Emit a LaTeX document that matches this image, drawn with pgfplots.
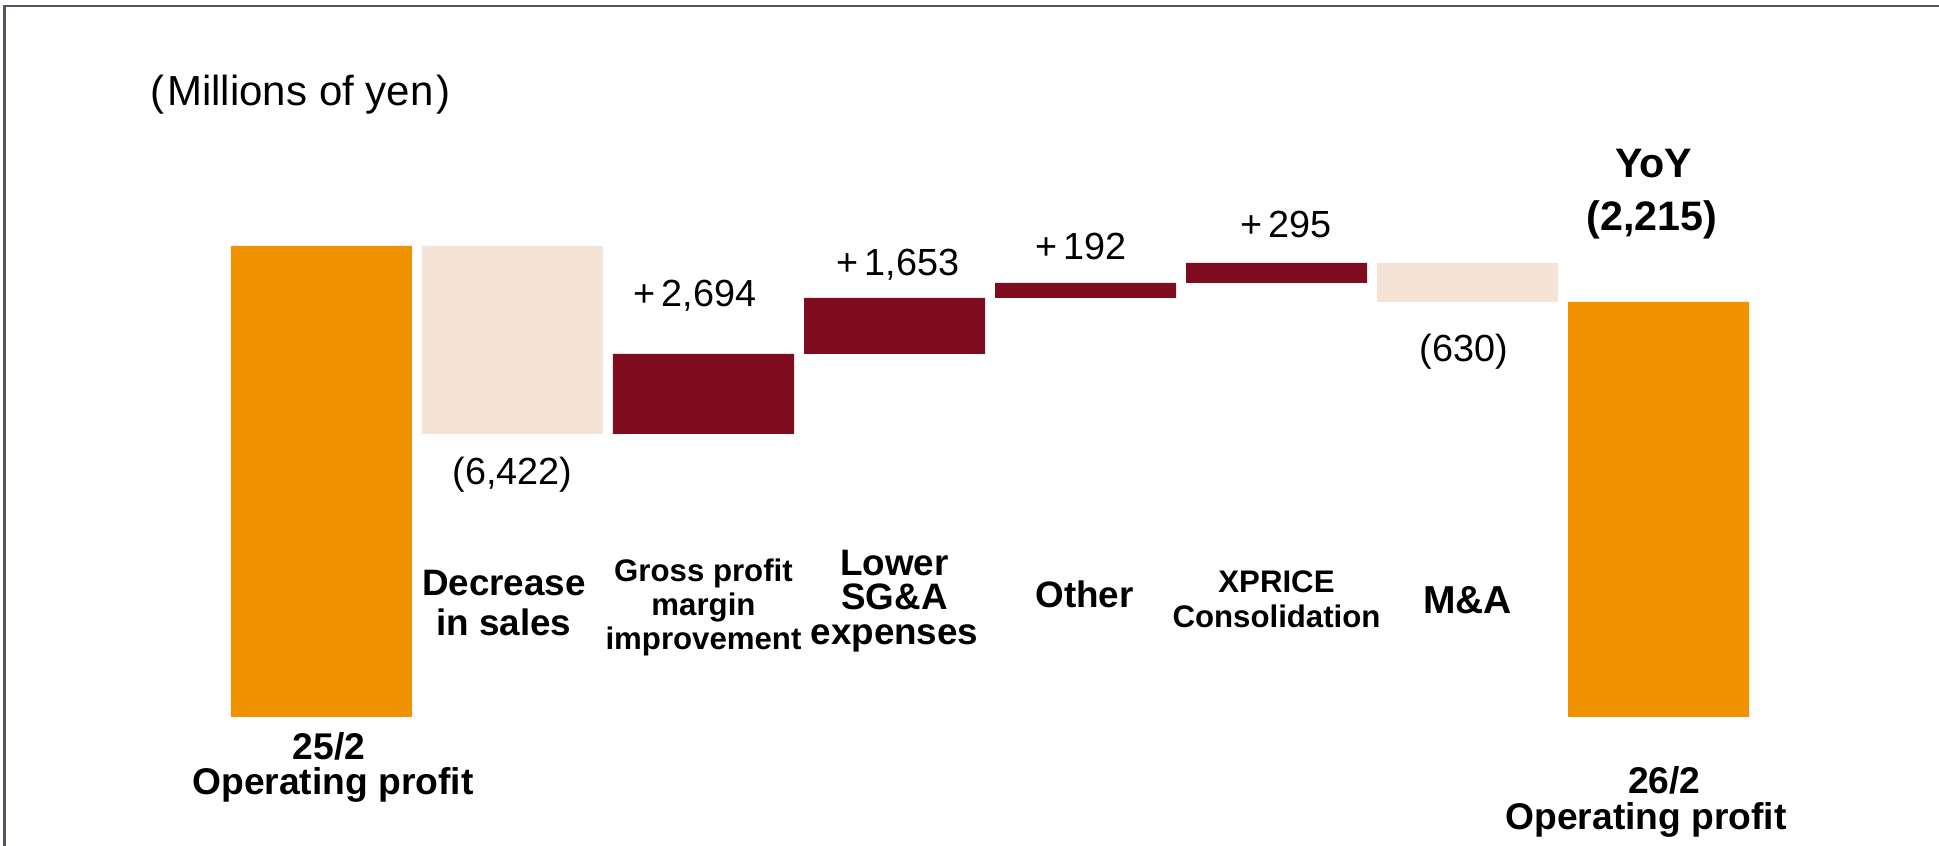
\documentclass[border=0pt]{standalone}
\usepackage{pgfplots}
\pgfplotsset{compat=1.18}
\usepackage{fontspec}
\setmainfont{Liberation Sans}
\definecolor{bOrange}{RGB}{241,146,0}
\definecolor{bBeige}{RGB}{245,228,213}
\definecolor{bRed}{RGB}{128,12,32}
\definecolor{frameGrey}{RGB}{80,86,94}
\newcommand{\vfont}{\fontsize{18.9}{22}\selectfont}
\begin{document}
\begin{tikzpicture}
\path[use as bounding box] (0,0) rectangle (969.5pt,423pt);
\begin{axis}[
  scale only axis, width=969.5pt, height=423pt,
  xmin=-1.6832, xmax=8.4686, ymin=-129, ymax=717,
  hide axis, clip=false,
  ybar stacked, bar width=90.5pt,
]
% invisible base of each floating bar (drawn levels)
\addplot[draw=none, fill=none] coordinates {(0,0) (1,283) (2,283) (3,363) (4,419) (5,434) (6,415) (7,0)};
% operating profit bars
\addplot[draw=none, fill=bOrange] coordinates {(0,471) (1,0) (2,0) (3,0) (4,0) (5,0) (6,0) (7,415)};
% decreases
\addplot[draw=none, fill=bBeige] coordinates {(0,0) (1,188) (2,0) (3,0) (4,0) (5,0) (6,39) (7,0)};
% increases
\addplot[draw=none, fill=bRed] coordinates {(0,0) (1,0) (2,80) (3,56) (4,15) (5,20) (6,0) (7,0)};

% frame (top and left)
\draw[frameGrey, line width=1.3pt] (-1.660,-129) -- (-1.660,711) -- (8.4686,711);

% unit
\node[anchor=base west, inner sep=0pt, font=\fontsize{21}{24}\selectfont] at (-0.898,611.5) {(\kern1.5pt Millions of yen\kern1.5pt)};

% values
\node[anchor=base, inner sep=0pt, text=white, font=\fontsize{18.3}{22}\selectfont\bfseries] at (0.018,285) {33,230};
\node[anchor=base, inner sep=0pt, text=white, font=\fontsize{18.3}{22}\selectfont\bfseries] at (6.982,283) {31,014};
\node[anchor=base, inner sep=0pt, font=\vfont] at (1.0,232) {(6,422)};
\node[anchor=base, inner sep=0pt, font=\vfont] at (1.955,410) {+\kern3pt2,694};
\node[anchor=base, inner sep=0pt, font=\vfont] at (3.018,441) {+\kern3pt1,653};
\node[anchor=base, inner sep=0pt, font=\vfont] at (3.976,457) {+\kern3pt192};
\node[anchor=base, inner sep=0pt, font=\vfont] at (5.05,479) {+\kern3pt295};
\node[anchor=base, inner sep=0pt, font=\vfont] at (5.98,355) {(630)};
\node[anchor=base, inner sep=0pt, font=\fontsize{20.6}{24}\selectfont\bfseries] at (6.976,539) {YoY};
\node[anchor=base, inner sep=0pt, font=\fontsize{20.6}{24}\selectfont\bfseries] at (6.966,486) {(2,215)};

% category labels
\node[anchor=center, align=center, inner sep=0pt, font=\fontsize{18.4}{20.2}\selectfont\bfseries] at (0.955,114) {Decrease\\in sales};
\node[anchor=center, align=center, inner sep=0pt, font=\fontsize{15.6}{16.8}\selectfont\bfseries] at (2.0,109.5) {Gross profit\\margin\\improvement};
\node[anchor=center, align=center, inner sep=0pt, font=\fontsize{18.4}{17.3}\selectfont\bfseries] at (3.0,116) {Lower\\SG\&A\\expenses};
\node[anchor=center, align=center, inner sep=0pt, font=\fontsize{18.4}{22}\selectfont\bfseries] at (3.995,123) {Other};
\node[anchor=center, align=center, inner sep=0pt, font=\fontsize{15.6}{17.6}\selectfont\bfseries] at (5.0,118) {XPRICE\\Consolidation};
\node[anchor=center, align=center, inner sep=0pt, font=\fontsize{19.5}{22}\selectfont\bfseries] at (6.0,117) {M\&A};

% bottom labels
\node[anchor=base, inner sep=0pt, font=\fontsize{18.6}{22}\selectfont\bfseries] at (0.04,-43) {25/2};
\node[anchor=base, inner sep=0pt, font=\fontsize{18.6}{22}\selectfont\bfseries] at (0.06,-78) {Operating profit};
\node[anchor=base, inner sep=0pt, font=\fontsize{18.6}{22}\selectfont\bfseries] at (7.03,-77) {26/2};
\node[anchor=base, inner sep=0pt, font=\fontsize{18.6}{22}\selectfont\bfseries] at (6.935,-113) {Operating profit};
\end{axis}
\end{tikzpicture}
\end{document}
